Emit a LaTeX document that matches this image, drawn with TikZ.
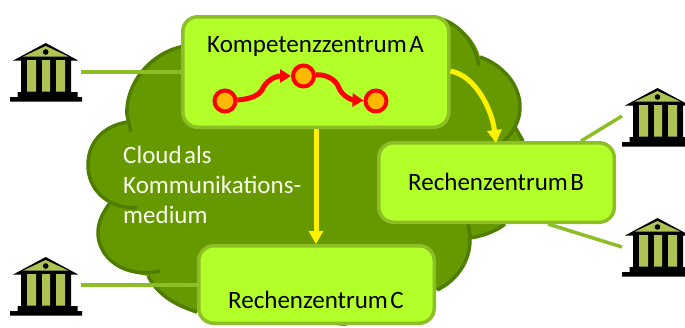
\documentclass[tikz,border=0pt]{standalone}
\usepackage{fontspec}
\setmainfont[WordSpace=0.45]{Carlito}
\usetikzlibrary{arrows.meta,calc}
\definecolor{cloudfill}{HTML}{669900}
\definecolor{cloudline}{HTML}{4F7D00}
\definecolor{boxfill}{HTML}{B3FF29}
\definecolor{boxline}{HTML}{8CBF26}
\definecolor{olive}{HTML}{AEC353}
\definecolor{procfill}{HTML}{FFB900}
\tikzset{
 cloudedge/.style={draw=cloudline,line width=3.5pt,line cap=butt},
 rzbox/.style={draw=boxline,fill=boxfill,line width=3.5pt,rounded corners=15pt,minimum width=#1,inner sep=0pt,outer sep=1.75pt,anchor=north west},
 link/.style={draw=boxline,line width=3.5pt},
 flow/.style={draw=yellow,line width=5pt,-{Triangle[length=13pt,width=14pt]}},
 proc/.style={circle,draw=red,fill=procfill,line width=4pt,minimum size=21pt,inner sep=0pt,outer sep=2pt},
 procflow/.style={draw=red,line width=5pt,-{Triangle[length=11pt,width=13pt]}},
 lbl/.style={anchor=base west,inner sep=0pt,font=\fontsize{25}{27}\selectfont},
 building/.pic={
  \fill[black] (-32.5,17.5) -- (0,0) -- (32.5,17.5) -- (25.5,17.5) -- (25.5,49) -- (32,49) -- (32,54) -- (36.5,54) -- (36.5,58.5) -- (-35.5,58.5) -- (-35.5,54) -- (-28,54) -- (-28,49) -- (-24.5,49) -- (-24.5,17.5) -- cycle;
  \fill[olive] (-22.5,13.5) -- (0,3) -- (22.5,13.5) -- cycle;
  \fill[black] (0,9) circle (2.8pt);
  \fill[olive] (-18.5,17) rectangle (-9.5,48.5) (-3.5,17) rectangle (4.5,48.5) (10.5,17) rectangle (19.5,48.5);
 }
}
\begin{document}
\begin{tikzpicture}[x=1pt,y=-1pt]
\useasboundingbox (0,0) rectangle (685,327);
% cloud
\fill[cloudfill] (185,46) .. controls (150,52) and (125,85) .. (127,122)
 .. controls (100,127) and (88,145) .. (88,165) .. controls (88,182) and (97,195) .. (110,203)
 .. controls (103,212) and (98,222) .. (98,233) .. controls (98,255) and (120,272) .. (148,276)
 .. controls (158,295) and (175,305) .. (197,312) -- (345,326) -- (437,290)
 .. controls (458,280) and (470,260) .. (470,238) .. controls (482,236) and (495,232) .. (505,224)
 -- (530,180) -- (523,141) -- (515,127) .. controls (518,120) and (520,113) .. (520,107)
 .. controls (520,85) and (503,65) .. (480,57) .. controls (475,38) and (458,22) .. (437,18) -- cycle;
\draw[cloudedge] (185,46) .. controls (150,52) and (125,85) .. (127,115) -- (131,132);
\draw[cloudedge] (127,122) .. controls (100,127) and (88,145) .. (88,165) .. controls (88,188) and (105,208) .. (137,208);
\draw[cloudedge] (110,203) .. controls (103,212) and (98,222) .. (98,233) .. controls (98,258) and (125,279) .. (160,271);
\draw[cloudedge] (148,276) .. controls (158,295) and (175,305) .. (197,312);
\draw[cloudedge] (437,290) .. controls (458,280) and (470,260) .. (470,240) .. controls (470,225) and (465,215) .. (460,205);
\draw[cloudedge] (470,238) .. controls (482,236) and (495,232) .. (505,224);
\draw[cloudedge] (437,18) .. controls (458,22) and (475,42) .. (479,66);
\draw[cloudedge] (480,57) .. controls (503,65) and (520,85) .. (520,107) .. controls (520,120) and (514,132) .. (503,142);
\draw[cloudedge] (515,127) -- (523,141);
% building anchors and links
\coordinate (fa) at (81,72);
\coordinate (fc) at (81,285);
\coordinate (fb1) at (622,116);
\coordinate (fb2) at (622,247);
\coordinate (ba1) at (581,141);
\coordinate (ba2) at (548,224);
\node[rzbox=266pt,minimum height=110.5pt] (boxA) at (181,15) {};
\node[rzbox=235.5pt,minimum height=79.5pt] (boxB) at (377,141) {};
\node[rzbox=235.5pt,minimum height=77.5pt] (boxC) at (197,244) {};
\draw[link] (fa) -- (boxA.west |- fa);
\draw[link] (fc) -- (boxC.west |- fc);
\draw[link] (fb1) -- (ba1);
\draw[link] (fb2) -- (ba2);
\pic at (45.7,43) {building};
\pic at (45.7,257) {building};
\pic at (657.5,88) {building};
\pic at (657.5,218) {building};
% texts
\node[lbl] (ta) at (207,52) {Kompetenzzentrum A};
\node[lbl] (tb) at (408,190) {Rechenzentrum B};
\node[lbl] (tc) at (228,308) {Rechenzentrum C};
\node[lbl,text=white!92!boxfill] (t1) at (123,163) {Cloud als};
\node[lbl,text=white!92!boxfill] (t2) at (123,193) {Kommunikations-};
\node[lbl,text=white!92!boxfill] (t3) at (123,223) {medium};
% process
\node[proc] (p1) at (225,101) {};
\node[proc] (p2) at (303.5,76) {};
\node[proc] (p3) at (376,101) {};
\draw[procflow] (p1) .. controls (250,99) and (258,96) .. (262,90) .. controls (266,80) and (276,76) .. (p2);
\draw[procflow] (p2) .. controls (325,74) and (336,79) .. (339,88) .. controls (342,96) and (352,100) .. (p3);
% flows
\draw[flow] (boxA.south -| 316,0) -- (boxC.north -| 316,0);
\draw[flow] (boxA.east |- 0,71) .. controls (476,76) and (492,110) .. (496,143);
\end{tikzpicture}
\end{document}
